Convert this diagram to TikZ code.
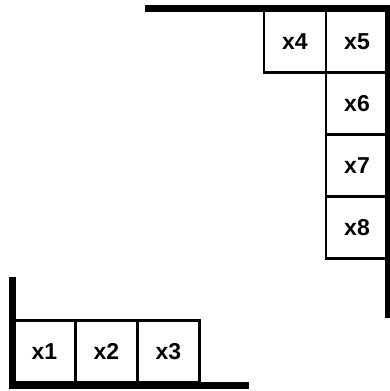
\documentclass[tikz,border=0pt]{standalone}
\usepackage{fontspec}
\setmainfont{Liberation Sans}
\usetikzlibrary{positioning}
\begin{document}
\begin{tikzpicture}[x=1pt,y=-1pt,
    cell/.style={draw, line width=2.8pt, outer sep=0pt, inner sep=0pt,
      minimum width=62pt, minimum height=62pt,
      font=\fontsize{23}{26}\selectfont\bfseries},
    wall/.style={line width=7pt}]
  \useasboundingbox (0,0) rectangle (390,391);
  % bottom corner
  \node[cell] (x1) at (44.5,351.5) {x1};
  \node[cell, right=0pt of x1] (x2) {x2};
  \node[cell, right=0pt of x2] (x3) {x3};
  \draw[wall] (12.5,277) -- (12.5,388);
  \draw[wall] (9,385) -- (249,385);
  % top corner
  \node[cell] (x4) at (295,41.5) {x4};
  \node[cell, right=0pt of x4] (x5) {x5};
  \node[cell, below=0pt of x5] (x6) {x6};
  \node[cell, below=0pt of x6] (x7) {x7};
  \node[cell, below=0pt of x7] (x8) {x8};
  \draw[wall] (145,8.5) -- (390,8.5);
  \draw[line width=5pt] (387.5,5) -- (387.5,318);
\end{tikzpicture}
\end{document}
